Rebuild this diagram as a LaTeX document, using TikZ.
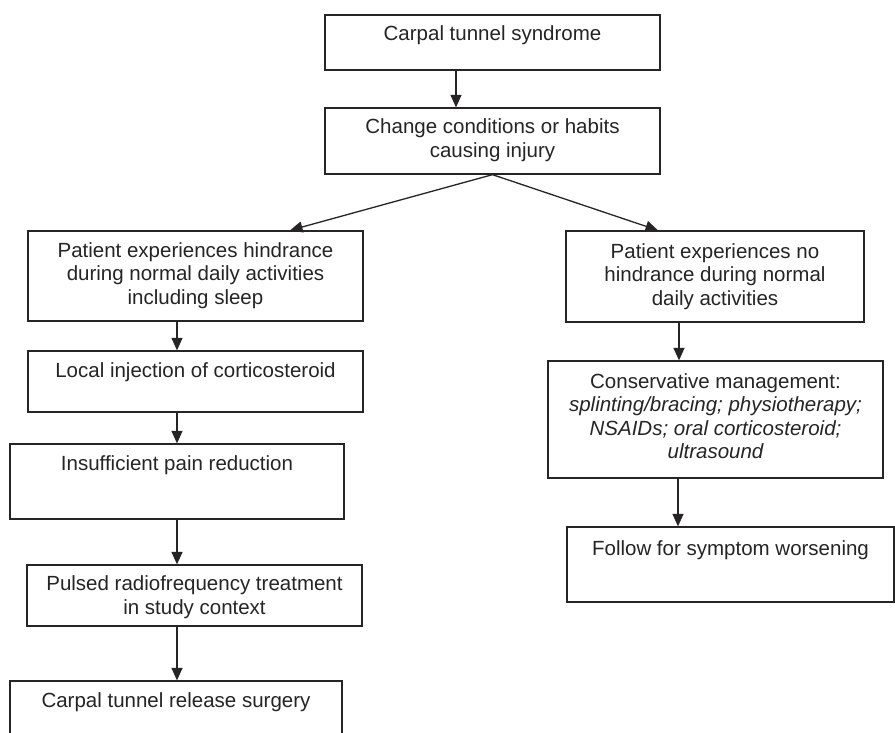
\documentclass[tikz,border=0pt]{standalone}
\usepackage{fontspec}
\setmainfont{Liberation Sans}
\usetikzlibrary{arrows.meta}
\definecolor{ink}{HTML}{262425}
\tikzset{
  box/.style={draw=ink, line width=1.3pt, rectangle, inner sep=0pt, fill=white},
  txt/.style={anchor=north, inner sep=0pt, align=center, text=ink,
    font=\fontsize{20.5}{23.5}\selectfont},
  arr/.style={draw=ink, line width=1.3pt, -{Triangle[length=12.5pt,width=11pt]}}
}
\begin{document}
\begin{tikzpicture}[x=1pt,y=-1pt]
\useasboundingbox (0,0) rectangle (895,732);
\clip (0,0) rectangle (895,732);
\fill[white] (0,0) rectangle (895,732);
% boxes
\node[box, minimum width=335pt, minimum height=55pt] (b1) at (492.5,42.5) {};
\node[box, minimum width=335pt, minimum height=66pt] (b2) at (492.5,141) {};
\node[box, minimum width=335pt, minimum height=90pt] (b3) at (195.5,276) {};
\node[box, minimum width=335pt, minimum height=61pt] (b4) at (195.5,381.5) {};
\node[box, minimum width=334pt, minimum height=75pt] (b5) at (177,481.5) {};
\node[box, minimum width=335pt, minimum height=61pt] (b6) at (194.5,595.5) {};
\node[box, minimum width=332pt, minimum height=79pt] (b7) at (176,720.5) {};
\node[box, minimum width=298pt, minimum height=91pt] (b8) at (715,276.5) {};
\node[box, minimum width=335pt, minimum height=117pt] (b9) at (715.5,419.5) {};
\node[box, minimum width=327pt, minimum height=75pt] (b10) at (730.5,564.5) {};
% texts
\node[txt] (t1) at ([yshift=-11.5pt]b1.north) {Carpal tunnel syndrome};
\node[txt] (t2) at ([yshift=-11.5pt]b2.north) {Change conditions or habits\\causing injury};
\node[txt] (t3) at ([yshift=-12pt]b3.north) {Patient experiences hindrance\\during normal daily activities\\including sleep};
\node[txt] (t4) at ([yshift=-12pt]b4.north) {Local injection of corticosteroid};
\node[txt] (t5) at ([yshift=-12pt]b5.north) {Insufficient pain reduction};
\node[txt] (t6) at ([yshift=-11.5pt]b6.north) {Pulsed radiofrequency treatment\\in study context};
\node[txt] (t7) at ([yshift=-12pt]b7.north) {Carpal tunnel release surgery};
\node[txt] (t8) at ([yshift=-13pt]b8.north) {Patient experiences no\\hindrance during normal\\daily activities};
\node[txt] (t9) at ([yshift=-13pt]b9.north) {Conservative management:\\\itshape splinting/bracing; physiotherapy;\\\itshape NSAIDs; oral corticosteroid;\\\itshape ultrasound};
\node[txt] (t10) at ([yshift=-14pt]b10.north) {Follow for symptom worsening};
% connectors
\draw[arr] ([xshift=-36.5pt]b1.south) -- ([xshift=-36.5pt]b2.north);
\draw[arr] (b2.south) -- ([xshift=94.5pt]b3.north);
\draw[arr] (b2.south) -- ([xshift=-57pt]b8.north);
\draw[arr] ([xshift=-18.5pt]b3.south) -- ([xshift=-18.5pt]b4.north);
\draw[arr] ([xshift=-18.5pt]b4.south) -- (b5.north);
\draw[arr] (b5.south) -- ([xshift=-17.5pt]b6.north);
\draw[arr] ([xshift=-17.5pt]b6.south) -- ([xshift=1pt]b7.north);
\draw[arr] ([xshift=-36pt]b8.south) -- ([xshift=-36.5pt]b9.north);
\draw[arr] ([xshift=-37.5pt]b9.south) -- ([xshift=-52.5pt]b10.north);
\end{tikzpicture}
\end{document}
